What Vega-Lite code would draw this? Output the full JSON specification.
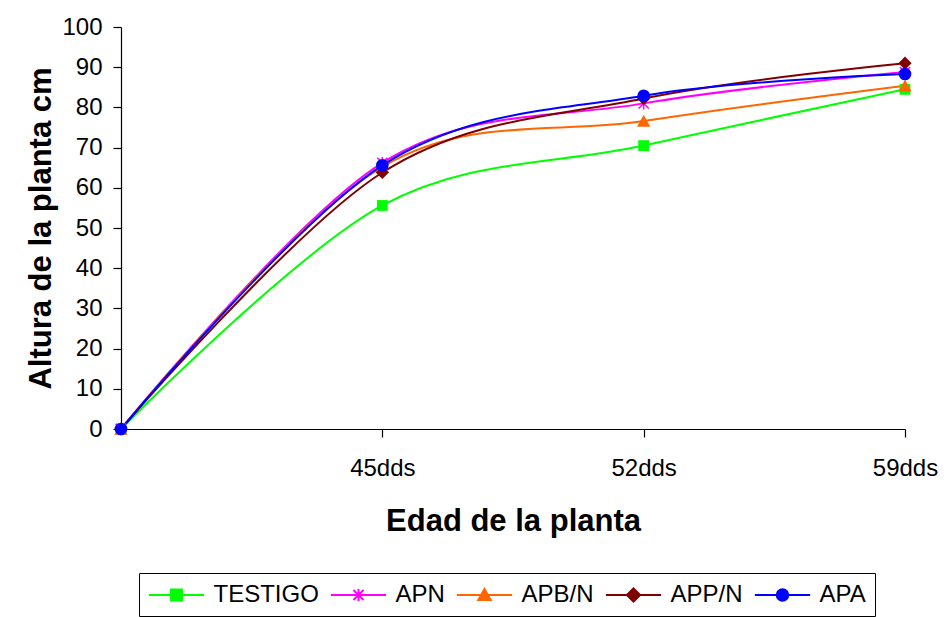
{
  "$schema": "https://vega.github.io/schema/vega-lite/v6.json",
  "width": 784,
  "height": 402,
  "autosize": {"type": "none"},
  "padding": {"left": 121, "top": 27, "right": 39, "bottom": 188},
  "background": "white",
  "config": {
    "view": {"stroke": null},
    "font": "Liberation Sans",
    "axis": {
      "domainColor": "black",
      "domainWidth": 1.2,
      "tickColor": "black",
      "tickWidth": 1.2,
      "tickSize": 8,
      "grid": false,
      "labelFont": "Liberation Sans",
      "labelFontSize": 24,
      "labelColor": "black",
      "titleFont": "Liberation Sans",
      "titleFontWeight": "bold",
      "titleColor": "black"
    }
  },
  "data": {
    "values": [
      {"series": "TESTIGO", "edad": "0dds", "altura": 0},
      {"series": "TESTIGO", "edad": "45dds", "altura": 55.6},
      {"series": "TESTIGO", "edad": "52dds", "altura": 70.5},
      {"series": "TESTIGO", "edad": "59dds", "altura": 84.5},
      {"series": "APN", "edad": "0dds", "altura": 0},
      {"series": "APN", "edad": "45dds", "altura": 66.2},
      {"series": "APN", "edad": "52dds", "altura": 81.0},
      {"series": "APN", "edad": "59dds", "altura": 88.8},
      {"series": "APB/N", "edad": "0dds", "altura": 0},
      {"series": "APB/N", "edad": "45dds", "altura": 65.2},
      {"series": "APB/N", "edad": "52dds", "altura": 76.6},
      {"series": "APB/N", "edad": "59dds", "altura": 85.4},
      {"series": "APP/N", "edad": "0dds", "altura": 0},
      {"series": "APP/N", "edad": "45dds", "altura": 63.8},
      {"series": "APP/N", "edad": "52dds", "altura": 82.2},
      {"series": "APP/N", "edad": "59dds", "altura": 91.0},
      {"series": "APA", "edad": "0dds", "altura": 0},
      {"series": "APA", "edad": "45dds", "altura": 65.6},
      {"series": "APA", "edad": "52dds", "altura": 82.9},
      {"series": "APA", "edad": "59dds", "altura": 88.3}
    ]
  },
  "encoding": {
    "x": {
      "field": "edad",
      "type": "ordinal",
      "sort": null,
      "scale": {"type": "point", "padding": 0, "domain": ["0dds", "45dds", "52dds", "59dds"]},
      "axis": {
        "title": "Edad de la planta",
        "titleFontSize": 31,
        "titleY": 101,
        "titleBaseline": "alphabetic",
        "values": ["45dds", "52dds", "59dds"],
        "labelAngle": 0,
        "labelPadding": 19
      }
    },
    "y": {
      "field": "altura",
      "type": "quantitative",
      "scale": {"domain": [0, 100], "nice": false, "zero": true},
      "axis": {
        "title": "Altura de la planta cm",
        "titleFontSize": 31,
        "titleX": -71,
        "titleBaseline": "alphabetic",
        "values": [0, 10, 20, 30, 40, 50, 60, 70, 80, 90, 100],
        "labelPadding": 11
      }
    },
    "color": {
      "field": "series",
      "type": "nominal",
      "scale": {
        "domain": ["TESTIGO", "APN", "APB/N", "APP/N", "APA"],
        "range": ["#00FF00", "#FF00FF", "#FF6600", "#800000", "#0000FF"]
      },
      "legend": {
        "title": null,
        "orient": "none",
        "legendX": 18,
        "legendY": 546,
        "direction": "horizontal",
        "columns": 5,
        "padding": 9,
        "strokeColor": "black",
        "labelFont": "Liberation Sans",
        "labelFontSize": 24,
        "labelColor": "black",
        "symbolSize": 576,
        "symbolOffset": 15.5,
        "labelOffset": 24,
        "columnPadding": 7,
        "symbolStrokeWidth": 2,
        "symbolOpacity": 1
      }
    }
  },
  "layer": [
    {
      "mark": {"type": "line", "interpolate": "cardinal", "strokeWidth": 2},
      "encoding": {}
    },
    {
      "transform": [{"filter": "datum.series === 'TESTIGO'"}],
      "mark": {"type": "point", "filled": true, "size": 144, "opacity": 1, "shape": "M-0.9,-0.9H0.9V0.9H-0.9Z"},
      "encoding": {}
    },
    {
      "transform": [{"filter": "datum.series === 'APN'"}],
      "mark": {"type": "point", "filled": false, "size": 144, "strokeWidth": 1.5, "opacity": 1, "shape": "M-0.85,-0.85L0.85,0.85M-0.85,0.85L0.85,-0.85M0,-1V1"},
      "encoding": {}
    },
    {
      "transform": [{"filter": "datum.series === 'APB/N'"}],
      "mark": {"type": "point", "filled": true, "size": 144, "opacity": 1, "shape": "M0,-1.05L1.1,0.95H-1.1Z"},
      "encoding": {}
    },
    {
      "transform": [{"filter": "datum.series === 'APP/N'"}],
      "mark": {"type": "point", "filled": true, "size": 144, "opacity": 1, "shape": "M0,-1.1L1.1,0L0,1.1L-1.1,0Z"},
      "encoding": {}
    },
    {
      "transform": [{"filter": "datum.series === 'APA'"}],
      "mark": {"type": "point", "filled": true, "size": 160, "opacity": 1, "shape": "circle"},
      "encoding": {}
    },
    {
      "mark": {"type": "point", "filled": true, "size": 576, "opacity": 0},
      "encoding": {
        "shape": {
          "field": "series",
          "type": "nominal",
          "scale": {
            "domain": ["TESTIGO", "APN", "APB/N", "APP/N", "APA"],
            "range": [
              "M-2.3,0H2.3M-0.46,-0.46H0.46V0.46H-0.46Z",
              "M-2.3,0H2.3M-0.42,-0.42L0.42,0.42M-0.42,0.42L0.42,-0.42M0,-0.5V0.5",
              "M-2.3,0H2.3M0,-0.5L0.52,0.42H-0.52Z",
              "M-2.3,0H2.3M0,-0.55L0.55,0L0,0.55L-0.55,0Z",
              "M-2.3,0H2.3M0.48,0A0.48,0.48,0,1,1,-0.48,0A0.48,0.48,0,1,1,0.48,0Z"
            ]
          },
          "legend": null
        },
        "stroke": {
          "field": "series",
          "type": "nominal",
          "scale": {
            "domain": ["TESTIGO", "APN", "APB/N", "APP/N", "APA"],
            "range": ["#00FF00", "#FF00FF", "#FF6600", "#800000", "#0000FF"]
          },
          "legend": null
        }
      }
    }
  ]
}
